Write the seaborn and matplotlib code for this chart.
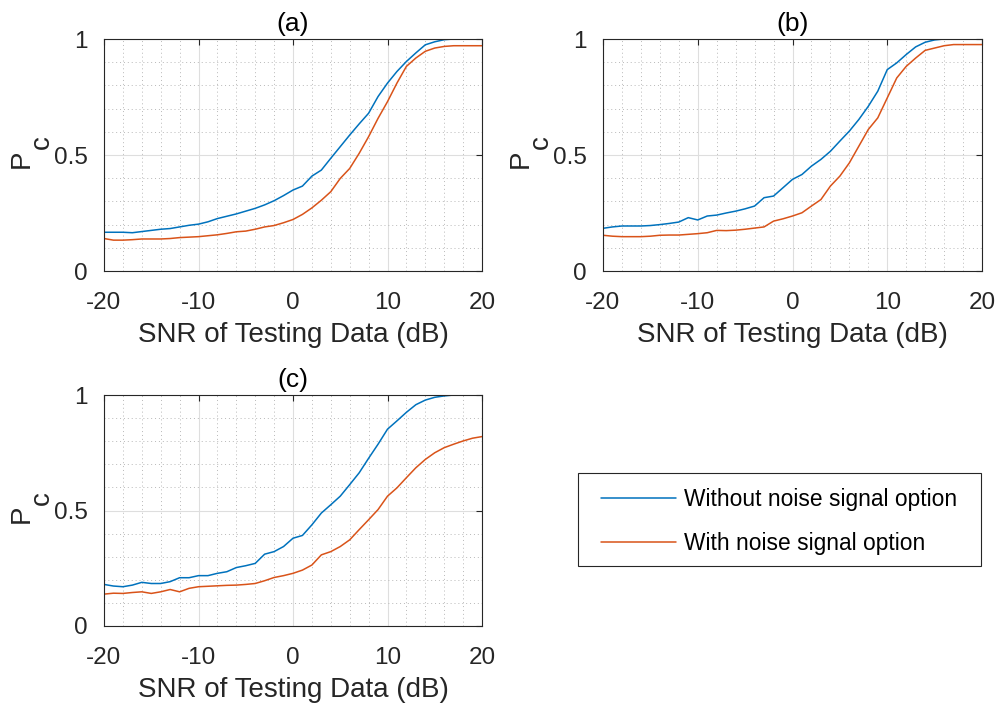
import numpy as np
import pandas as pd
import matplotlib
matplotlib.use("Agg")
import matplotlib.pyplot as plt
from matplotlib.patches import Rectangle
from matplotlib.lines import Line2D
from matplotlib.ticker import MultipleLocator
import seaborn as sns

# SNR of testing data (dB)
snr = list(range(-20, 21))

# Probability of correct classification, panel (a)
pc_a_without = [0.167, 0.167, 0.167, 0.165, 0.170, 0.175, 0.180, 0.183, 0.190, 0.197,
                0.202, 0.212, 0.226, 0.236, 0.246, 0.258, 0.270, 0.285, 0.303, 0.325,
                0.349, 0.366, 0.409, 0.435, 0.486, 0.536, 0.586, 0.634, 0.680, 0.752,
                0.810, 0.860, 0.903, 0.940, 0.975, 0.988, 0.997, 1.000, 1.000, 1.000, 1.000]
pc_a_with = [0.140, 0.133, 0.133, 0.135, 0.138, 0.138, 0.138, 0.140, 0.144, 0.146,
             0.148, 0.152, 0.156, 0.162, 0.169, 0.172, 0.180, 0.190, 0.196, 0.208,
             0.222, 0.244, 0.272, 0.305, 0.342, 0.399, 0.442, 0.507, 0.579, 0.658,
             0.730, 0.810, 0.882, 0.918, 0.947, 0.961, 0.968, 0.971, 0.971, 0.971, 0.971]

# Panel (b)
pc_b_without = [0.184, 0.190, 0.194, 0.194, 0.194, 0.196, 0.200, 0.205, 0.211, 0.230,
                0.220, 0.237, 0.241, 0.250, 0.258, 0.268, 0.280, 0.316, 0.323, 0.359,
                0.395, 0.416, 0.452, 0.481, 0.516, 0.560, 0.603, 0.653, 0.710, 0.775,
                0.868, 0.897, 0.933, 0.966, 0.986, 0.996, 1.000, 1.000, 1.000, 1.000, 1.000]
pc_b_with = [0.154, 0.150, 0.148, 0.148, 0.148, 0.150, 0.154, 0.155, 0.155, 0.158,
             0.161, 0.165, 0.175, 0.174, 0.176, 0.180, 0.185, 0.190, 0.215, 0.225,
             0.237, 0.251, 0.280, 0.308, 0.366, 0.409, 0.466, 0.538, 0.610, 0.660,
             0.746, 0.832, 0.882, 0.918, 0.951, 0.961, 0.971, 0.976, 0.976, 0.976, 0.976]

# Panel (c)
pc_c_without = [0.180, 0.173, 0.170, 0.177, 0.189, 0.184, 0.184, 0.192, 0.209, 0.209,
                0.218, 0.218, 0.228, 0.235, 0.253, 0.261, 0.271, 0.311, 0.322, 0.344,
                0.380, 0.392, 0.438, 0.489, 0.525, 0.562, 0.612, 0.663, 0.726, 0.787,
                0.852, 0.888, 0.925, 0.958, 0.978, 0.990, 0.996, 1.000, 1.000, 1.000, 1.000]
pc_c_with = [0.138, 0.142, 0.141, 0.145, 0.148, 0.141, 0.148, 0.158, 0.148, 0.163,
             0.170, 0.172, 0.174, 0.176, 0.177, 0.180, 0.184, 0.196, 0.210, 0.218,
             0.228, 0.242, 0.264, 0.308, 0.322, 0.344, 0.373, 0.417, 0.460, 0.504,
             0.562, 0.598, 0.642, 0.685, 0.721, 0.750, 0.772, 0.787, 0.801, 0.813, 0.820]

panel_titles = ["(a)", "(b)", "(c)"]
series_labels = ["Without noise signal option", "With noise signal option"]
x_ticks = [-20, -10, 0, 10, 20]
y_ticks = [0, 0.5, 1]
y_tick_labels = ["0", "0.5", "1"]

colors = ["#0072BD", "#D95319"]

sns.set_style("white")
plt.rcParams["font.family"] = ["Liberation Sans", "DejaVu Sans"]
plt.rcParams["axes.unicode_minus"] = False

W, H = 999, 711
fig = plt.figure(figsize=(W / 100, H / 100), dpi=100)


def px_rect(left, top, right, bottom):
    return [left / W, 1 - bottom / H, (right - left) / W, (bottom - top) / H]


axes_boxes = [px_rect(104, 39, 482, 271),
              px_rect(603, 39, 982, 271),
              px_rect(104, 395, 482, 626)]

panels = [(pc_a_without, pc_a_with), (pc_b_without, pc_b_with), (pc_c_without, pc_c_with)]

for box, title, (without, with_) in zip(axes_boxes, panel_titles, panels):
    ax = fig.add_axes(box)
    df = pd.DataFrame({
        "SNR": snr * 2,
        "Pc": without + with_,
        "Option": [series_labels[0]] * len(snr) + [series_labels[1]] * len(snr),
    })
    sns.lineplot(data=df, x="SNR", y="Pc", hue="Option", palette=colors,
                 linewidth=1.1, ax=ax, legend=False)
    ax.set_xlim(-20, 20)
    ax.set_ylim(0, 1)
    ax.set_xticks(x_ticks)
    ax.set_xticklabels([str(t) for t in x_ticks])
    ax.set_yticks(y_ticks)
    ax.set_yticklabels(y_tick_labels)
    ax.xaxis.set_minor_locator(MultipleLocator(2))
    ax.yaxis.set_minor_locator(MultipleLocator(0.1))
    ax.grid(True, which="major", color="#dedede", linewidth=0.8, linestyle="-")
    ax.grid(True, which="minor", color="#b8b8b8", linewidth=0.7, linestyle=(0, (1, 3)))
    ax.set_axisbelow(True)
    ax.tick_params(which="major", direction="in", length=4, width=0.8, color="#262626",
                   top=True, right=True, labelsize=17.5, labelcolor="#262626")
    ax.tick_params(axis="x", pad=15)
    ax.tick_params(axis="y", pad=11.5)
    ax.tick_params(which="minor", length=0)
    for sp in ax.spines.values():
        sp.set_color("#262626")
        sp.set_linewidth(0.8)
        sp.set_visible(True)
    ax.set_xlabel("SNR of Testing Data (dB)", fontsize=20, color="#262626", labelpad=6)
    ax.set_ylabel("")
    ax.set_title(title, fontsize=19, color="#000000", pad=5.5)
    # y-axis label P with subscript c
    ax.annotate("P", xy=(0, 0.5), xycoords="axes fraction", xytext=(-59, -2.5),
                textcoords="offset points", rotation=90, ha="center", va="center",
                fontsize=20, color="#262626")
    ax.annotate("c", xy=(0, 0.5), xycoords="axes fraction", xytext=(-44.5, 9),
                textcoords="offset points", rotation=90, ha="center", va="center",
                fontsize=20, color="#262626")

# Legend in the empty lower-right slot
fig.patches.append(Rectangle((578 / W, 1 - 566 / H), (981 - 578) / W, (566 - 473) / H,
                             transform=fig.transFigure, facecolor="white",
                             edgecolor="#262626", linewidth=0.8, zorder=0))
handles = [Line2D([], [], color=c, linewidth=1.1) for c in colors]
fig.legend(handles, series_labels, loc="upper left",
           bbox_to_anchor=(601 / W, 1 - 488 / H), bbox_transform=fig.transFigure,
           frameon=False, borderpad=0, borderaxespad=0, fontsize=16.4,
           handlelength=3.3, handletextpad=0.35, labelspacing=0.92,
           labelcolor="#000000")

fig.savefig("out.png", dpi=100)
